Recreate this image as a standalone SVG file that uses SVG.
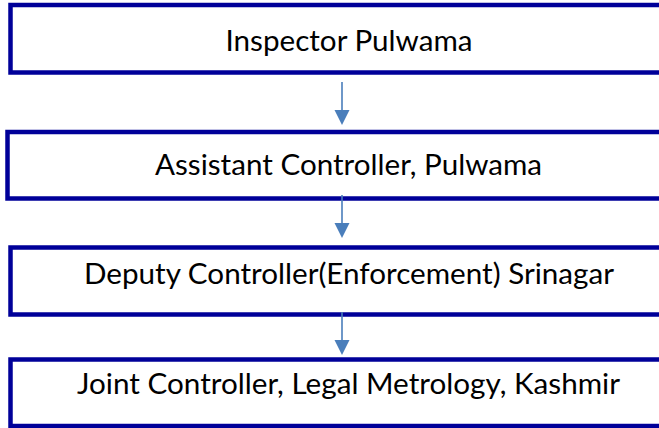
<svg xmlns="http://www.w3.org/2000/svg" width="659" height="428" viewBox="0 0 659 428">
<style>
.box{fill:#ffffff;stroke:#000099;stroke-width:4.5}
.lbl{font-family:Lato,"Open Sans","Liberation Sans",sans-serif;font-size:29px;fill:#000000;text-anchor:middle}
.conn{stroke:#4A7EBB;stroke-width:1.6;fill:none}
.head{fill:#4A7EBB}
</style>
<rect width="659" height="428" fill="#ffffff"/>
<g id="n1">
<rect class="box" x="10.5" y="5" width="700" height="67.5"/>
<text class="lbl" x="349" y="51" textLength="247" lengthAdjust="spacingAndGlyphs">Inspector Pulwama</text>
</g>
<g id="n2">
<rect class="box" x="7.5" y="132" width="700" height="66.5"/>
<text class="lbl" x="348.5" y="175" textLength="387" lengthAdjust="spacingAndGlyphs">Assistant Controller, Pulwama</text>
</g>
<g id="n3">
<rect class="box" x="10.5" y="247.5" width="700" height="67"/>
<text class="lbl" x="349" y="284" textLength="530" lengthAdjust="spacingAndGlyphs">Deputy Controller(Enforcement) Srinagar</text>
</g>
<g id="n4">
<rect class="box" x="10.5" y="359.5" width="700" height="66.5"/>
<text class="lbl" x="348.5" y="394" textLength="543" lengthAdjust="spacingAndGlyphs">Joint Controller, Legal Metrology, Kashmir</text>
</g>
<g id="connectors">
<line class="conn" x1="342" y1="82" x2="342" y2="111"/>
<polygon class="head" points="334.5,110 349.5,110 342,125"/>
<line class="conn" x1="342" y1="195" x2="342" y2="224"/>
<polygon class="head" points="334.5,223 349.5,223 342,238"/>
<line class="conn" x1="342" y1="312" x2="342" y2="341"/>
<polygon class="head" points="334.5,340 349.5,340 342,355"/>
</g>
</svg>
